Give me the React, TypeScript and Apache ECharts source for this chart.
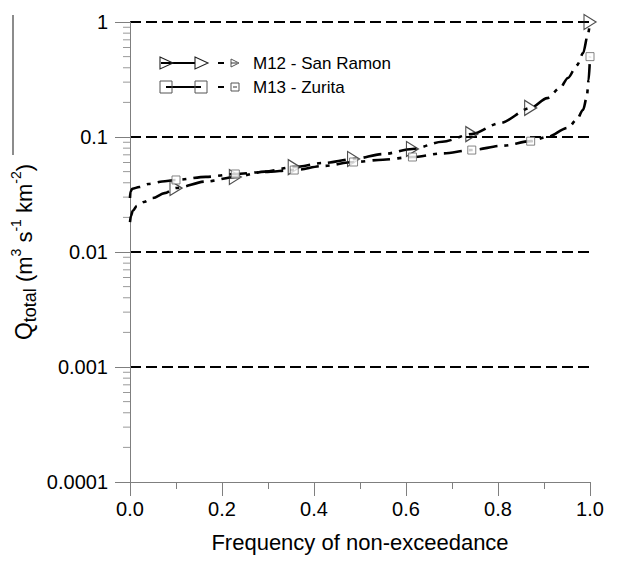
import { useEffect, useRef } from "react";
import * as echarts from "echarts";

// Frequency of non-exceedance (x) and Q_total (y) for each station curve
const freqM12 = [0, 0.002, 0.006, 0.015, 0.03, 0.05, 0.075, 0.1, 0.165, 0.229, 0.293, 0.357, 0.421, 0.486, 0.55, 0.614, 0.679, 0.743, 0.804, 0.871, 0.907, 0.935, 0.952, 0.972, 0.985, 0.996, 1.0];
const qM12 = [0.0182, 0.0205, 0.0228, 0.0252, 0.0272, 0.0295, 0.0325, 0.036, 0.041, 0.0449, 0.05, 0.0548, 0.0595, 0.0644, 0.071, 0.0787, 0.091, 0.106, 0.132, 0.179, 0.218, 0.267, 0.326, 0.423, 0.537, 0.8, 1.0];

const freqM13 = [0, 0.001, 0.005, 0.02, 0.04, 0.07, 0.1, 0.165, 0.229, 0.293, 0.357, 0.421, 0.486, 0.55, 0.614, 0.679, 0.743, 0.81, 0.871, 0.907, 0.952, 0.971, 0.985, 0.993, 0.997, 1.0];
const qM13 = [0.0295, 0.0335, 0.0355, 0.0367, 0.039, 0.041, 0.0423, 0.045, 0.0477, 0.0497, 0.0516, 0.056, 0.0606, 0.0635, 0.067, 0.072, 0.077, 0.084, 0.092, 0.1, 0.12, 0.141, 0.172, 0.223, 0.313, 0.5];

// Marker positions
const markerFreq = [0.1, 0.229, 0.357, 0.486, 0.614, 0.743, 0.871, 1.0];
const markerM12 = [0.036, 0.0449, 0.0548, 0.0644, 0.0787, 0.106, 0.179, 1.0];
const markerM13 = [0.0423, 0.0477, 0.0516, 0.0606, 0.067, 0.077, 0.092, 0.5];

// Axis tick labels
const xTickLabels = ["0.0", "0.2", "0.4", "0.6", "0.8", "1.0"];
const yTickLabels = ["0.0001", "0.001", "0.01", "0.1", "1"];
const yDecades = [0.0001, 0.001, 0.01, 0.1];
const yMinorMultipliers = [2, 3, 4, 5, 6, 7, 8, 9];

const seriesNames = ["M12 - San Ramon", "M13 - Zurita"];

const FONT = "'Liberation Sans', Arial, Helvetica, sans-serif";
const AXIS_GRAY = "#7f7f7f";

export default function App() {
  const ref = useRef<HTMLDivElement>(null);

  useEffect(() => {
    if (!ref.current) return;
    const chart = echarts.init(ref.current, undefined, { renderer: "svg" });

    const minorY: number[][] = [];
    yDecades.forEach((d) => yMinorMultipliers.forEach((m) => minorY.push([0, d * m])));

    const lineStyle = { color: "#000", width: 2.6, type: [18, 7, 4, 7] as any };

    const option: any = {
      animation: false,
      backgroundColor: "#fff",
      grid: { left: 130, top: 22, right: 28, bottom: 80, outerBoundsMode: "none" },
      xAxis: {
        type: "value",
        min: 0,
        max: 1,
        interval: 0.2,
        axisLine: { show: true, lineStyle: { color: AXIS_GRAY, width: 1 } },
        axisTick: { show: true, length: 14, lineStyle: { color: AXIS_GRAY, width: 1 } },
        minorTick: { show: true, splitNumber: 2, length: 7, lineStyle: { color: AXIS_GRAY, width: 1 } },
        splitLine: { show: false },
        axisLabel: {
          margin: 17,
          fontSize: 20,
          fontFamily: FONT,
          color: "#000",
          formatter: (v: number) => xTickLabels[Math.round(v * 5)] ?? "",
        },
        name: "Frequency of non-exceedance",
        nameLocation: "middle",
        nameGap: 49,
        nameTextStyle: { fontSize: 22, fontFamily: FONT, color: "#000" },
      },
      yAxis: {
        type: "log",
        logBase: 10,
        min: 0.0001,
        max: 1,
        axisLine: { show: true, lineStyle: { color: AXIS_GRAY, width: 1 } },
        axisTick: { show: true, length: 15, lineStyle: { color: AXIS_GRAY, width: 1 } },
        splitLine: {
          show: true,
          showMinLine: false,
          lineStyle: { color: "#000", width: 2, type: [11, 5] },
        },
        axisLabel: {
          margin: 22,
          fontSize: 20,
          fontFamily: FONT,
          color: "#000",
          formatter: (v: number) => yTickLabels[Math.round(Math.log10(v)) + 4] ?? "",
        },
      },
      series: [
        {
          name: "yMinorTicks",
          type: "scatter",
          data: minorY,
          symbol: "rect",
          symbolSize: [7, 1],
          symbolOffset: [-3.5, 0],
          itemStyle: { color: AXIS_GRAY },
          silent: true,
          clip: false,
          z: 1,
        },
        {
          name: seriesNames[0],
          type: "line",
          data: freqM12.map((f, i) => [f, qM12[i]]),
          showSymbol: false,
          symbol: "none",
          smooth: 0.3,
          smoothMonotone: "x",
          lineStyle,
          z: 3,
        },
        {
          name: seriesNames[1],
          type: "line",
          data: freqM13.map((f, i) => [f, qM13[i]]),
          showSymbol: false,
          symbol: "none",
          smooth: 0.3,
          smoothMonotone: "x",
          lineStyle,
          z: 3,
        },
        {
          name: seriesNames[0] + " markers",
          type: "scatter",
          data: markerFreq.map((f, i) => [f, markerM12[i]]),
          symbol: "triangle",
          symbolRotate: -90,
          symbolSize: [15, 12],
          itemStyle: { color: "rgba(255,255,255,0)", borderColor: "#222", borderWidth: 1.2 },
          clip: false,
          z: 4,
        },
        {
          name: seriesNames[1] + " markers",
          type: "scatter",
          data: markerFreq.map((f, i) => [f, markerM13[i]]),
          symbol: "rect",
          symbolSize: 8,
          itemStyle: { color: "#fff", borderColor: "#666", borderWidth: 1 },
          clip: false,
          z: 4,
        },
      ],
      graphic: [
        // y-axis title
        {
          type: "text",
          x: 24,
          y: 252,
          rotation: Math.PI / 2,
          style: {
            text: "{q|Q}{sub|total}{n| (m}{sup|3}{n| s}{sup|-1}{n| km}{sup|-2}{n|)}",
            align: "center",
            verticalAlign: "middle",
            fill: "#000",
            rich: {
              q: { fontSize: 23, fontFamily: FONT, lineHeight: 30, verticalAlign: "middle", fill: "#000" },
              n: { fontSize: 22, fontFamily: FONT, lineHeight: 30, verticalAlign: "middle", fill: "#000" },
              sub: { fontSize: 18, fontFamily: FONT, lineHeight: 30, verticalAlign: "bottom", fill: "#000" },
              sup: { fontSize: 14, fontFamily: FONT, lineHeight: 30, verticalAlign: "top", fill: "#000" },
            },
          },
        },
        {
          type: "line",
          shape: { x1: 13, y1: 15, x2: 13, y2: 155 },
          style: { stroke: "#666", lineWidth: 1.5 },
        },
        // legend row 1
        { type: "line", shape: { x1: 161, y1: 63, x2: 196, y2: 63 }, style: { stroke: "#000", lineWidth: 2 } },
        { type: "polygon", shape: { points: [[160, 57], [173, 63], [160, 69]] }, style: { fill: "none", stroke: "#222", lineWidth: 1.1 } },
        { type: "polygon", shape: { points: [[195, 57], [208, 63], [195, 69]] }, style: { fill: "#fff", stroke: "#222", lineWidth: 1.1 } },
        { type: "line", shape: { x1: 218, y1: 63, x2: 224, y2: 63 }, style: { stroke: "#000", lineWidth: 2 } },
        { type: "polygon", shape: { points: [[231, 59], [239, 63], [231, 67]] }, style: { fill: "none", stroke: "#555", lineWidth: 1 } },
        { type: "line", shape: { x1: 231, y1: 63, x2: 237, y2: 63 }, style: { stroke: "#333", lineWidth: 1 } },
        { type: "text", x: 253, y: 63, style: { text: seriesNames[0], fontSize: 17, fontFamily: FONT, fill: "#000", verticalAlign: "middle" } },
        // legend row 2
        { type: "line", shape: { x1: 166, y1: 87, x2: 201, y2: 87 }, style: { stroke: "#000", lineWidth: 2 } },
        { type: "rect", shape: { x: 160, y: 81, width: 12, height: 12 }, style: { fill: "none", stroke: "#555", lineWidth: 1 } },
        { type: "rect", shape: { x: 195, y: 81, width: 12, height: 12 }, style: { fill: "none", stroke: "#555", lineWidth: 1 } },
        { type: "line", shape: { x1: 218, y1: 87, x2: 224, y2: 87 }, style: { stroke: "#000", lineWidth: 2 } },
        { type: "rect", shape: { x: 231, y: 83, width: 8, height: 8 }, style: { fill: "none", stroke: "#555", lineWidth: 1 } },
        { type: "line", shape: { x1: 233, y1: 87, x2: 237, y2: 87 }, style: { stroke: "#333", lineWidth: 1 } },
        { type: "text", x: 253, y: 87, style: { text: seriesNames[1], fontSize: 17, fontFamily: FONT, fill: "#000", verticalAlign: "middle" } },
      ],
    };

    chart.setOption(option);
    return () => chart.dispose();
  }, []);

  return (
    <div
      ref={ref}
      style={{ position: "fixed", left: 0, top: 0, width: 618, height: 562, background: "#fff" }}
    />
  );
}
